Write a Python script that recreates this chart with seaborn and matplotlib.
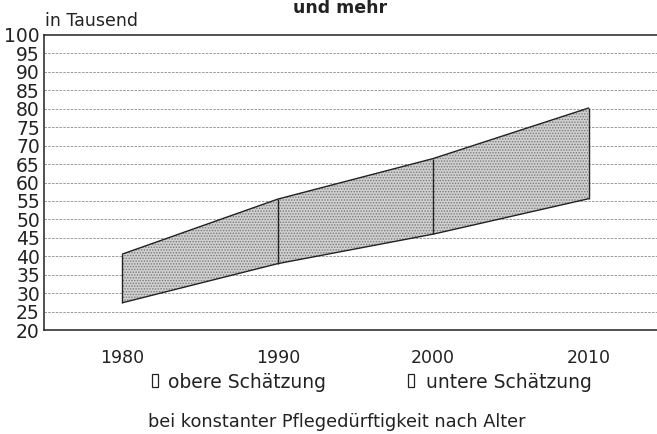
import matplotlib
matplotlib.use("Agg")
import matplotlib.pyplot as plt
from matplotlib.patches import Rectangle
import seaborn as sns
import pandas as pd

# Data (in Tausend)
years = [1980, 1990, 2000, 2010]
upper = [40.6, 55.5, 66.5, 80.2]
lower = [27.4, 38.0, 46.0, 55.6]
yticks = list(range(20, 101, 5))
xticks = [1980, 1990, 2000, 2010]

sns.set_theme(style="white")
plt.rcParams['font.family'] = ['DejaVu Sans']
plt.rcParams['hatch.linewidth'] = 0.7

df = pd.DataFrame({"Jahr": years, "obere": upper, "untere": lower})

fig = plt.figure(figsize=(6.57, 4.34), dpi=100)
ax = fig.add_axes([44/657, (434-330)/434, 1 - 44/657, (330-35)/434])

ax.fill_between(df["Jahr"], df["untere"], df["obere"], facecolor="#d0d0d0",
                edgecolor="#7a7a7a", hatch="......", linewidth=0, zorder=2)
sns.lineplot(data=df, x="Jahr", y="obere", color="#222222", linewidth=1.0, ax=ax, zorder=3)
sns.lineplot(data=df, x="Jahr", y="untere", color="#222222", linewidth=1.0, ax=ax, zorder=3)
ax.vlines(df["Jahr"], df["untere"], df["obere"], color="#222222", linewidth=1.0, zorder=3)

ax.set_xlim(1974.95, 2014.4)
ax.set_ylim(20, 100)
ax.set_yticks(yticks)
ax.set_xticks(xticks)
ax.set_yticklabels([str(v) for v in yticks], fontsize=13.5, color="#222222")
ax.set_xticklabels([str(v) for v in xticks], fontsize=12.5, color="#222222")
ax.tick_params(axis="y", length=0, pad=3)
ax.tick_params(axis="x", direction="in", length=6, width=0.9, color="#222222", pad=14)
ax.set_xlabel("")
ax.set_ylabel("")

for v in yticks[1:-1]:
    ax.axhline(v, color="#8c8c8c", linewidth=0.6, linestyle=(0, (3, 1.5)), zorder=1)

for s in ["left", "bottom", "top"]:
    ax.spines[s].set_color("#222222")
    ax.spines[s].set_linewidth(1.1)
ax.spines["right"].set_visible(False)
ax.set_facecolor("white")

fig.text(340/657, 1 - 13/434, "und mehr", fontsize=12.5, fontweight="bold",
         ha="center", va="baseline", color="#222222")
fig.text(45/657, 1 - 21/434, "in Tausend", fontsize=12.5, ha="left", va="center", color="#222222")

# legend boxes (thin outlined rectangles)
for bx in (152, 408):
    fig.patches.append(Rectangle((bx/657, 1 - 387/434), 6/657, 13/434,
                                 transform=fig.transFigure, facecolor="white",
                                 edgecolor="#222222", linewidth=0.9))
fig.text(168/657, 1 - 382/434, "obere Schätzung", fontsize=13.5, ha="left", va="center", color="#222222")
fig.text(426/657, 1 - 382/434, "untere Schätzung", fontsize=13.5, ha="left", va="center", color="#222222")
fig.text(337/657, 1 - 422/434, "bei konstanter Pflegedürftigkeit nach Alter", fontsize=12.8,
         ha="center", va="center", color="#222222")

fig.savefig("out.png", dpi=100)
